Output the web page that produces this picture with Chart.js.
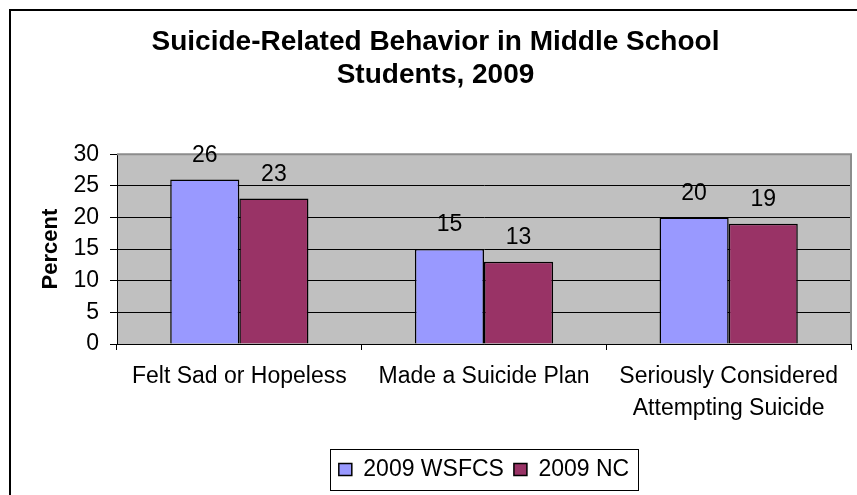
<!DOCTYPE html>
<html>
<head>
<meta charset="utf-8">
<title>Suicide-Related Behavior in Middle School Students, 2009</title>
<script src="https://cdn.jsdelivr.net/npm/chart.js@4.4.1/dist/chart.umd.min.js"></script>
<style>
	body { margin: 0; background: #fff; overflow: hidden; }
	#chartBox { width: 857px; height: 495px; }
</style>
</head>
<body>
<div id="chartBox"><canvas id="suicideChart" width="857" height="495"></canvas></div>
<script>
var categories = ['Felt Sad or Hopeless', 'Made a Suicide Plan', ['Seriously Considered', 'Attempting Suicide']];
var wsfcsValues = [26, 15, 20];
var ncValues = [23, 13, 19];
var yTicks = [0, 5, 10, 15, 20, 25, 30];
var seriesNames = ['2009 WSFCS', '2009 NC'];

Chart.defaults.font.family = "'Liberation Sans', Arial, sans-serif";
Chart.defaults.color = '#000';

// grey plot background plus the outer frame
var backgroundPlugin = {
	id: 'background',
	beforeDraw: function(chart) {
		var ctx = chart.ctx;
		var area = chart.chartArea;
		ctx.save();
		ctx.strokeStyle = '#000';
		ctx.lineWidth = 2;
		ctx.strokeRect(10, 10, 900, 600);
		ctx.fillStyle = '#c0c0c0';
		ctx.fillRect(area.left, area.top, area.right - area.left, area.bottom - area.top);
		ctx.restore();
	},
	beforeDatasetsDraw: function(chart) {
		var ctx = chart.ctx;
		var area = chart.chartArea;
		ctx.save();
		ctx.strokeStyle = '#8c8c8c';
		ctx.lineWidth = 2;
		ctx.beginPath();
		ctx.moveTo(area.left, area.top);
		ctx.lineTo(area.right, area.top);
		ctx.lineTo(area.right, area.bottom);
		ctx.stroke();
		ctx.restore();
	}
};

// value labels above the bars
var valueLabelPlugin = {
	id: 'valueLabels',
	afterDatasetsDraw: function(chart) {
		var ctx = chart.ctx;
		ctx.save();
		ctx.font = "23px 'Liberation Sans', Arial, sans-serif";
		ctx.fillStyle = '#000';
		ctx.textAlign = 'center';
		ctx.textBaseline = 'middle';
		chart.data.datasets.forEach(function(ds, i) {
			chart.getDatasetMeta(i).data.forEach(function(bar, j) {
				ctx.fillText(ds.data[j], bar.x, bar.y - 24);
			});
		});
		ctx.restore();
	}
};

// border round the legend
var legendBoxPlugin = {
	id: 'legendBox',
	afterDraw: function(chart) {
		var legend = chart.legend;
		var boxes = legend.legendHitBoxes;
		if (!boxes || !boxes.length) return;
		var first = boxes[0];
		var last = boxes[boxes.length - 1];
		var ctx = chart.ctx;
		ctx.save();
		ctx.strokeStyle = '#000';
		ctx.lineWidth = 1;
		ctx.strokeRect(Math.round(first.left - 9) + 0.5, Math.round(legend.top + 1) + 0.5,
			Math.round(last.left + last.width - first.left + 18), Math.round(legend.height - 2));
		ctx.restore();
	}
};

var ctx = document.getElementById('suicideChart').getContext('2d');
var suicideChart = new Chart(ctx, {
	type: 'bar',
	data: {
		labels: categories,
		datasets: [{
			label: seriesNames[0],
			data: wsfcsValues,
			backgroundColor: '#9999ff',
			borderColor: '#000',
			borderWidth: 1.5
		}, {
			label: seriesNames[1],
			data: ncValues,
			backgroundColor: '#993366',
			borderColor: '#000',
			borderWidth: 1.5
		}]
	},
	options: {
		responsive: false,
		animation: false,
		devicePixelRatio: 1,
		barPercentage: 1,
		categoryPercentage: 0.565,
		layout: {
			padding: { left: 20, right: 6, top: 0, bottom: 4 }
		},
		plugins: {
			title: {
				display: true,
				text: ['Suicide-Related Behavior in Middle School', 'Students, 2009'],
				color: '#000',
				font: { size: 28, weight: 'bold', lineHeight: 1.2 },
				padding: { top: 25, bottom: 62 }
			},
			legend: {
				position: 'bottom',
				fullSize: false,
				labels: {
					color: '#000',
					font: { size: 23 },
					boxWidth: 13,
					boxHeight: 12,
					padding: 10
				}
			},
			tooltip: { enabled: false }
		},
		scales: {
			x: {
				afterFit: function(scale) { scale.height = 104; },
				grid: {
					offset: true,
					drawOnChartArea: false,
					color: '#000',
					tickColor: '#000',
					tickLength: 6
				},
				border: { color: '#000', width: 1 },
				ticks: {
					color: '#000',
					font: { size: 23, lineHeight: '32px' },
					padding: 11,
					maxRotation: 0,
					autoSkip: false
				}
			},
			y: {
				min: 0,
				max: 30,
				afterFit: function(scale) { scale.width = 97; },
				afterBuildTicks: function(scale) {
					scale.ticks = yTicks.map(function(v) { return { value: v }; });
				},
				grid: {
					color: function(c) { return c.tick && c.tick.value === 30 ? '#8c8c8c' : '#000'; },
					tickColor: '#000',
					tickLength: 7
				},
				border: { color: '#000', width: 1 },
				ticks: {
					color: '#000',
					font: { size: 23 },
					padding: 11
				},
				title: {
					display: true,
					text: 'Percent',
					color: '#000',
					font: { size: 22, weight: 'bold' },
					padding: { top: 18, bottom: 0 }
				}
			}
		}
	},
	plugins: [backgroundPlugin, valueLabelPlugin, legendBoxPlugin]
});
</script>
</body>
</html>
